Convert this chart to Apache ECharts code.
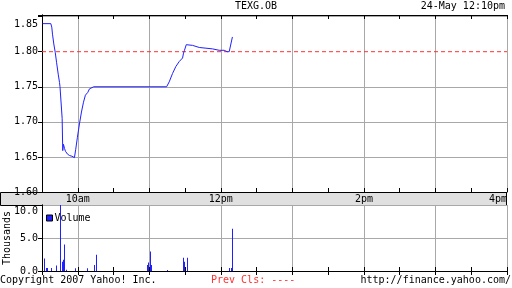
<!DOCTYPE html>
<html>
<head>
<meta charset="utf-8">
<script src="https://cdn.jsdelivr.net/npm/echarts@6/dist/echarts.min.js"></script>
<style>
html,body{margin:0;padding:0;background:#fff;}
#chart{width:512px;height:288px;}
</style>
</head>
<body>
<div id="chart"></div>
<script>
// ---- data (minutes after the 9:30 open) ----
const priceMinutes = [0.5, 7.4, 8.2, 8.8, 9.9, 11.1, 12.2, 13.6, 14.7, 15.1, 16.6, 16.9, 17.4, 18.0, 18.9, 19.7, 21.4, 23.1, 25.1, 27.2, 28.3, 29.7, 31.4, 33.1, 34.8, 36.4, 38.4, 39.8, 43.4, 104.5, 106.7, 109.5, 112.3, 115.1, 117.9, 118.7, 119.5, 121.0, 122.6, 126.3, 131.9, 137.5, 143.0, 148.6, 152.8, 155.3, 157.0, 158.0, 159.7];
const prices = [1.840, 1.840, 1.835, 1.825, 1.811, 1.799, 1.785, 1.768, 1.756, 1.750, 1.750, 1.705, 1.659, 1.668, 1.662, 1.658, 1.654, 1.652, 1.651, 1.649, 1.661, 1.678, 1.697, 1.714, 1.728, 1.738, 1.742, 1.747, 1.750, 1.750, 1.757, 1.769, 1.779, 1.786, 1.791, 1.798, 1.802, 1.810, 1.811, 1.809, 1.806, 1.805, 1.804, 1.802, 1.802, 1.800, 1.800, 1.801, 1.821];
const volumeMinutes = [1.5, 3.2, 4.6, 7.4, 11.6, 15.3, 16.6, 17.4, 18.3, 20.0, 27.8, 37.5, 43.4, 45.0, 87.7, 88.6, 90.3, 91.4, 104.5, 117.9, 118.7, 119.5, 122.0, 156.9, 158.4, 159.7];
const volumes = [1.9, 0.45, 0.45, 0.45, 0.85, 10.8, 1.4, 1.7, 4.0, 0.2, 0.4, 0.4, 0.9, 2.45, 0.9, 1.3, 2.95, 0.9, 0.15, 2.0, 0.4, 1.4, 2.0, 0.45, 0.45, 6.4];
const refLineMinutes = [0, 390];
const refLinePrice = 1.80;
const timeLabelMinutes = [30, 150, 270, 390];
const timeLabels = ['10am', '12pm', '2pm', '4pm'];
const symbol = 'TEXG.OB';
const stamp = '24-May 12:10pm';

const FONT = 'DejaVu Sans Mono';
const GRAY = '#a8a8a8';
const BLUE = '#2020ff';
const RED = '#ff3030';
const hourColors = ['transparent', GRAY];

const chart = echarts.init(document.getElementById('chart'), null, {renderer: 'canvas'});

function timeFmt(v) {
  const i = timeLabelMinutes.indexOf(Math.round(v));
  return i >= 0 ? timeLabels[i] : '';
}
function priceFmt(v) {
  const k = v * 20;
  if (Math.abs(k - Math.round(k)) > 1e-6) return '';
  const s = v.toFixed(2);
  return Math.abs(v - 1.85) < 1e-6 ? '{t|' + s + '}' : s;
}
function volFmt(v) {
  const s = v.toFixed(1);
  return v === 10 ? '{t|' + s + '}' : s;
}
const baseText = {fontFamily: FONT, fontSize: 10, color: '#000'};
const blackLine = {lineStyle: {color: '#000', width: 1}};

const xCommon = {type: 'value', min: 0, max: 390, interval: 30};

const option = {
  animation: false,
  backgroundColor: '#fff',
  textStyle: baseText,
  title: [
    {text: symbol, left: 'center', top: 1, padding: 0, textStyle: Object.assign({fontWeight: 'normal'}, baseText)},
    {text: stamp, right: 7, top: 1, padding: 0, textStyle: Object.assign({fontWeight: 'normal'}, baseText)}
  ],
  legend: {
    data: ['Volume'], left: 46, top: 213, icon: 'rect', itemWidth: 6, itemHeight: 6, padding: 0,
    itemStyle: {color: BLUE, borderColor: '#000', borderWidth: 1},
    textStyle: Object.assign({padding: [0, 0, 0, -3]}, baseText)
  },
  grid: [
    {left: 42, right: 5, top: 15, height: 177, containLabel: false, outerBoundsMode: 'none'},
    {left: 42, right: 5, top: 205, height: 66, containLabel: false, outerBoundsMode: 'none'}
  ],
  xAxis: [
    Object.assign({}, xCommon, {gridIndex: 0, position: 'bottom',
      axisLine: blackLine, axisTick: {inside: true, length: 4, lineStyle: {color: '#000'}},
      axisLabel: Object.assign({margin: 2, formatter: timeFmt, alignMaxLabel: 'right'}, baseText),
      splitLine: {show: true, lineStyle: {color: hourColors, width: 1}}}),
    Object.assign({}, xCommon, {gridIndex: 0, position: 'top',
      axisLine: blackLine, axisTick: {inside: true, length: 4, lineStyle: {color: '#000'}},
      axisLabel: {show: false}, splitLine: {show: false}}),
    Object.assign({}, xCommon, {gridIndex: 1, position: 'bottom',
      axisLine: blackLine, axisTick: {inside: true, length: 4, lineStyle: {color: '#000'}},
      axisLabel: {show: false},
      splitLine: {show: true, lineStyle: {color: hourColors, width: 1}}}),
    Object.assign({}, xCommon, {gridIndex: 1, position: 'top',
      axisLine: blackLine, axisTick: {inside: true, length: 4, lineStyle: {color: '#000'}},
      axisLabel: {show: false}, splitLine: {show: false}})
  ],
  yAxis: [
    {gridIndex: 0, type: 'value', min: 1.60, max: 1.8523, interval: 0.05, position: 'left',
      axisLine: {show: true, lineStyle: {color: '#000'}},
      axisTick: {show: true, inside: false, length: 3, lineStyle: {color: '#000'}},
      axisLabel: Object.assign({margin: 4, formatter: priceFmt, showMaxLabel: false,
        rich: {t: Object.assign({padding: [16, 0, 0, 0]}, baseText)}}, baseText),
      splitLine: {show: true, lineStyle: {color: [GRAY, GRAY, GRAY, GRAY, 'transparent', GRAY, GRAY], width: 1}}},
    {gridIndex: 0, type: 'value', min: 1.60, max: 1.8523, interval: 0.05, position: 'right',
      axisLine: {show: true, lineStyle: {color: '#000'}},
      axisTick: {show: true, inside: true, length: 4, lineStyle: {color: '#000'}},
      axisLabel: {show: false}, splitLine: {show: false}},
    {gridIndex: 1, type: 'value', min: 0, max: 10, interval: 5, position: 'left',
      name: 'Thousands', nameLocation: 'middle', nameRotate: 90, nameGap: 30, nameMoveOverlap: false,
      nameTextStyle: baseText,
      axisLine: {show: true, lineStyle: {color: '#000'}},
      axisTick: {show: true, inside: false, length: 3, lineStyle: {color: '#000'}},
      axisLabel: Object.assign({margin: 4, formatter: volFmt,
        rich: {t: Object.assign({padding: [13, 0, 0, 0]}, baseText)}}, baseText),
      splitLine: {show: true, lineStyle: {color: GRAY, width: 1}}},
    {gridIndex: 1, type: 'value', min: 0, max: 10, interval: 5, position: 'right',
      axisLine: {show: true, lineStyle: {color: '#000'}},
      axisTick: {show: true, inside: true, length: 4, lineStyle: {color: '#000'}},
      axisLabel: {show: false}, splitLine: {show: false}}
  ],
  graphic: [
    {type: 'rect', z: -10, zlevel: 0, silent: true,
      shape: {x: 0.5, y: 192.5, width: 506, height: 13},
      style: {fill: '#e0e0e0', stroke: '#000', lineWidth: 1}},
    {type: 'text', left: 0, top: 275, style: {text: 'Copyright 2007 Yahoo! Inc.', fill: '#000', font: '10px "DejaVu Sans Mono"'}},
    {type: 'text', left: 211, top: 275, style: {text: 'Prev Cls: ----', fill: RED, font: '10px "DejaVu Sans Mono"'}},
    {type: 'text', right: 1, top: 275, style: {text: 'http://finance.yahoo.com/', fill: '#000', font: '10px "DejaVu Sans Mono"'}}
  ],
  series: [
    {type: 'line', name: 'Ref', xAxisIndex: 0, yAxisIndex: 0, showSymbol: false, symbol: 'none',
      silent: true, z: 1,
      lineStyle: {color: RED, width: 1, type: [4, 3]}, itemStyle: {color: RED},
      data: refLineMinutes.map(m => [m, refLinePrice])},
    {type: 'line', name: 'Price', xAxisIndex: 0, yAxisIndex: 0, showSymbol: false, symbol: 'none',
      z: 2,
      lineStyle: {color: BLUE, width: 1}, itemStyle: {color: BLUE},
      data: priceMinutes.map((m, i) => [m, prices[i]])},
    {type: 'custom', name: 'Volume', xAxisIndex: 2, yAxisIndex: 2, clip: true,
      itemStyle: {color: BLUE},
      encode: {x: 0, y: 1},
      renderItem: function (params, api) {
        const top = api.coord([api.value(0), api.value(1)]);
        const base = api.coord([api.value(0), 0]);
        const x = Math.round(top[0]);
        const yTop = Math.max(top[1], params.coordSys.y);
        return {type: 'rect', shape: {x: x, y: yTop, width: 1, height: base[1] - yTop},
          style: {fill: BLUE}};
      },
      data: volumeMinutes.map((m, i) => [m, volumes[i]])}
  ]
};
chart.setOption(option);
</script>
</body>
</html>
